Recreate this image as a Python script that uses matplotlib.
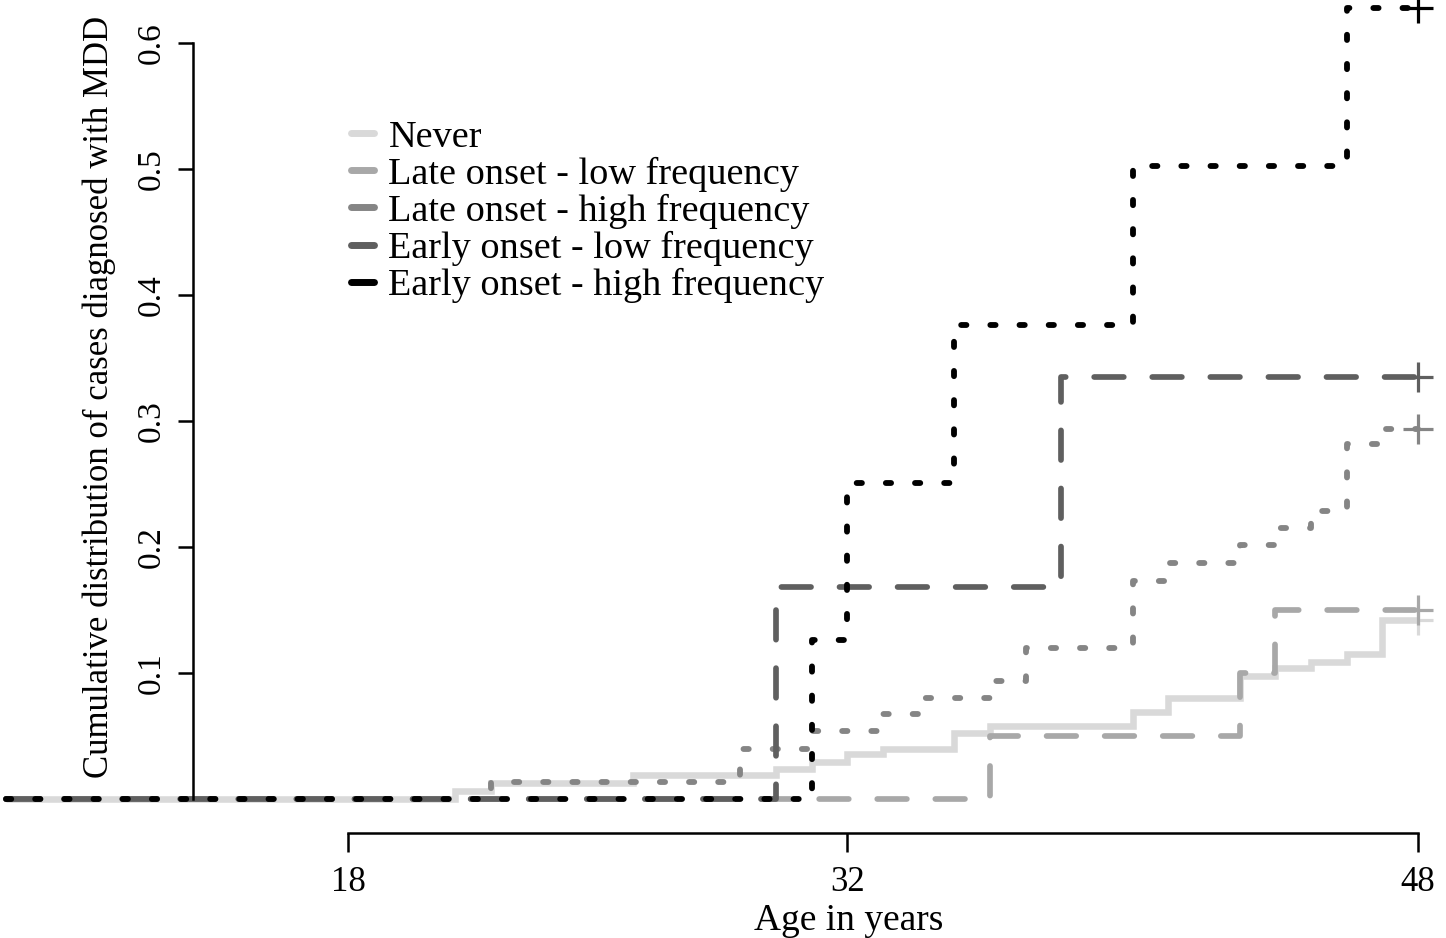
import matplotlib
matplotlib.use('Agg')
import matplotlib.pyplot as plt
from matplotlib.lines import Line2D

plt.rcParams['font.family'] = ['Liberation Serif', 'DejaVu Serif']

# ---------- data: step ages and cumulative proportion ----------------------
start_age = 8.4
end_age = 48

never_t = [21, 22, 26, 30, 31, 32, 33, 35, 36, 40, 41, 43, 44, 45, 46, 47]
never_v = [0.006, 0.013, 0.019, 0.024, 0.029, 0.036, 0.040, 0.052, 0.058,
           0.069, 0.080, 0.098, 0.104, 0.109, 0.115, 0.142]

late_low_t = [36, 43, 44]
late_low_v = [0.050, 0.100, 0.150]

late_high_t = [22, 29, 31, 33, 34, 36, 37, 40, 41, 43, 44, 45, 46, 47]
late_high_v = [0.0135, 0.040, 0.054, 0.0675, 0.080, 0.094, 0.120, 0.173,
               0.187, 0.2016, 0.215, 0.2286, 0.282, 0.294]

early_low_t = [30, 38]
early_low_v = [0.168, 0.335]

early_high_t = [31, 32, 35, 40, 46]
early_high_v = [0.126, 0.251, 0.376, 0.502, 0.628]

labels = ['Never', 'Late onset - low frequency', 'Late onset - high frequency',
          'Early onset - low frequency', 'Early onset - high frequency']
colours = ['#d9d9d9', '#a8a8a8', '#858585', '#5f5f5f', '#000000']

x_ticks = [18, 32, 48]
y_ticks = [0.1, 0.2, 0.3, 0.4, 0.5, 0.6]

series = [(never_t, never_v), (late_low_t, late_low_v), (late_high_t, late_high_v),
          (early_low_t, early_low_v), (early_high_t, early_high_v)]
styles = [dict(ls='-', lw=4.7),
          dict(dashes=(5.2, 5.0), lw=4.1),
          dict(dashes=(0.9, 4.1), lw=4.2),
          dict(dashes=(5.2, 5.0), lw=4.1),
          dict(dashes=(0.9, 4.1), lw=4.2)]

# ---------- figure ---------------------------------------------------------
fig = plt.figure(figsize=(14.46, 9.38), dpi=100)
ax = fig.add_axes([0, 0, 1, 1])
ax.patch.set_visible(False)
ax.set_xlim(8.243, 48.785)
ax.set_ylim(-0.1103, 0.6341)

for (t, v), c, st in zip(series, colours, styles):
    xs = [start_age] + t + [end_age]
    ys = [0] + v + [v[-1]]
    ax.step(xs, ys, where='post', color=c, dash_capstyle='round',
            solid_capstyle='butt', solid_joinstyle='miter', clip_on=False, **st)
    # censor mark at the end
    ax.plot([end_age], [v[-1]], marker='+', ms=22, mew=2.3, color=c,
            ls='none', clip_on=False)

# ---------- axes in R style -------------------------------------------------
for s in ['top', 'right']:
    ax.spines[s].set_visible(False)
ax.spines['left'].set_position(('data', 13.654))
ax.spines['left'].set_bounds(0, 0.6)
ax.spines['bottom'].set_position(('data', -0.027))
ax.spines['bottom'].set_bounds(18, 48)
for s in ['left', 'bottom']:
    ax.spines[s].set_linewidth(1.8)

ax.set_xticks(x_ticks)
ax.set_xticklabels([str(x) for x in x_ticks])
ax.set_yticks(y_ticks)
ax.set_yticklabels([f'{y:.1f}' for y in y_ticks])
ax.tick_params(axis='x', length=13.7, width=1.8, pad=10, labelsize=25)
ax.tick_params(axis='y', length=10.8, width=1.8, pad=8, labelsize=24)
for lbl in ax.get_yticklabels():
    lbl.set_rotation(90)
    lbl.set_va('center')

ax.set_xlabel('Age in years', fontsize=27)
ax.xaxis.set_label_coords(849 / 1446, 1 - 903 / 938)
ax.set_ylabel('Cumulative distribution of cases diagnosed with MDD', fontsize=25)
ax.yaxis.set_label_coords(116 / 1446, 1 - 397 / 938)

# ---------- legend ---------------------------------------------------------
handles = [Line2D([], [], color=c, lw=5, solid_capstyle='round') for c in colours]
ax.legend(handles, labels, loc='upper left', bbox_to_anchor=(351 / 1446, 1 - 120 / 938),
          frameon=False, borderpad=0, borderaxespad=0, fontsize=27.5,
          handlelength=0.6, handletextpad=0.38, labelspacing=0.05)

fig.savefig('out.png', dpi=100)
